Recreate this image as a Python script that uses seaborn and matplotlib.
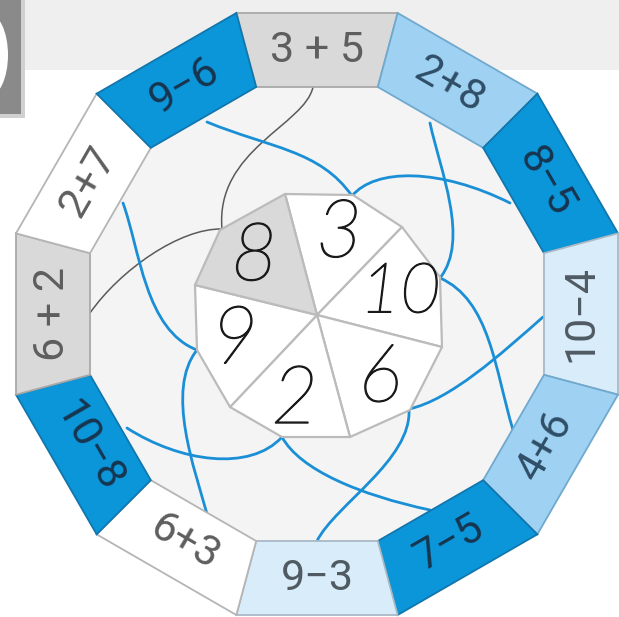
import numpy as np
import matplotlib
matplotlib.use("Agg")
import matplotlib.pyplot as plt
import matplotlib.patheffects as pe
import seaborn as sns
from matplotlib.patches import Polygon, Rectangle, Ellipse, PathPatch
from matplotlib.path import Path

# ---------------- data ----------------
expressions = ["3 + 5", "2+8", "8\u22125", "10\u22124", "4+6", "7\u22125",
               "9\u22123", "6+3", "10\u22128", "6 + 2", "2+7", "9\u22126"]
shade = ["gray", "light", "dark", "pale", "light", "dark",
         "pale", "white", "dark", "gray", "white", "dark"]
answers = ["3", "10", "6", "2", "9", "8"]
answer_shade = ["white", "white", "white", "white", "white", "gray"]

# ---------------- style ----------------
sns.set_theme(style="white")
plt.rcParams["font.family"] = ["Roboto", "DejaVu Sans"]

fill = {"gray": "#d9d9d9", "light": "#9fd2f2", "dark": "#0b96d9",
        "pale": "#d9ecfa", "white": "#ffffff"}
edge = {"gray": "#a9a9a9", "light": "#6fa9cf", "dark": "#1276ad",
        "pale": "#a9b9c6", "white": "#b5b5b5"}
txtc = {"gray": "#5e5e5e", "light": "#2f4d66", "dark": "#17354f",
        "pale": "#4f5a63", "white": "#5e5e5e"}

W, H = 619, 617
fig = plt.figure(figsize=(W / 100, H / 100), dpi=100)
ax = fig.add_axes([0, 0, 1, 1])
ax.set_xlim(0, W)
ax.set_ylim(H, 0)
ax.axis("off")
fig.patch.set_facecolor("white")

# background band and corner block
ax.add_patch(Rectangle((0, 0), W, 70, color="#efefef", lw=0, zorder=0))
ax.add_patch(Rectangle((0, 0), 25, 118, color="#d0d0d0", lw=0, zorder=1))
ax.add_patch(Rectangle((0, 0), 21, 114, color="#8a8a8a", lw=0, zorder=1))
ax.add_patch(Ellipse((-12, 55), 40, 84, color="white", lw=0, zorder=2))

CX, CY = 317, 314
A_OUT, A_IN = 301, 227
r_out = A_OUT / np.cos(np.radians(15))
r_in = A_IN / np.cos(np.radians(15))


def pt(r, deg):
    a = np.radians(deg)
    return (CX + r * np.cos(a), CY - r * np.sin(a))


# inner light area
ax.add_patch(Polygon([pt(r_in, 15 + 30 * k) for k in range(12)], closed=True,
                     fc="#f4f4f4", ec="none", zorder=1))

# ring segments
for k, (expr, s) in enumerate(zip(expressions, shade)):
    a = 90 - 30 * k
    poly = [pt(r_out, a + 15), pt(r_out, a - 15), pt(r_in, a - 15), pt(r_in, a + 15)]
    ax.add_patch(Polygon(poly, closed=True, fc=fill[s], ec=edge[s], lw=1.3, zorder=3))
    rot = a - 90
    while rot <= -90:
        rot += 180
    while rot > 90:
        rot -= 180
    tx, ty = pt((A_IN + A_OUT) / 2, a)
    ax.text(tx, ty, expr, rotation=rot, rotation_mode="anchor", ha="center",
            va="center", fontsize=31, color=txtc[s], zorder=6)

# inner polygon (spoke ends and middle vertices)
spokes = [(285, 194), (402, 227), (442, 347), (350, 437), (230, 407), (195, 285)]
mids = [(353, 195), (440, 277), (410, 410), (282, 437), (197, 350), (220, 230)]
IC = (317, 315)
for i in range(6):
    s0, m, s1 = spokes[i], mids[i], spokes[(i + 1) % 6]
    ax.add_patch(Polygon([IC, s0, m, s1], closed=True, fc=fill[answer_shade[i]],
                         ec="#bbbbbb", lw=1.6, zorder=4, joinstyle="round"))
    gx = (IC[0] + s0[0] + m[0] + s1[0]) / 4
    gy = (IC[1] + s0[1] + m[1] + s1[1]) / 4
    ax.text(gx, gy + 2, answers[i], ha="center", va="center",
            fontsize=50 if len(answers[i]) > 1 else 58,
            family=["Lato", "DejaVu Sans"], style="italic", weight="light",
            color="#1a1a1a", zorder=7,
            path_effects=[pe.withStroke(linewidth=1.0, foreground="#1a1a1a")])

# connecting curves: start, two control points, end (cubic Bezier)
curves_gray = [
    [(313, 87), (305, 125), (215, 150), (222, 229)],
    [(222, 229), (180, 228), (120, 270), (90, 313)],
]
curves_blue = [
    [(207, 122), (270, 148), (320, 150), (352, 196)],
    [(352, 196), (375, 168), (440, 168), (510, 203)],
    [(430, 123), (440, 170), (470, 240), (440, 278)],
    [(440, 278), (490, 300), (495, 370), (513, 430)],
    [(543, 317), (500, 355), (450, 400), (409, 409)],
    [(409, 409), (412, 460), (335, 505), (317, 541)],
    [(282, 437), (250, 472), (180, 462), (127, 428)],
    [(282, 437), (300, 470), (360, 495), (430, 510)],
    [(123, 203), (140, 250), (145, 330), (197, 350)],
    [(197, 350), (165, 390), (195, 470), (207, 514)],
]


def bez(points):
    return Path(points, [Path.MOVETO, Path.CURVE4, Path.CURVE4, Path.CURVE4])


for c in curves_gray:
    ax.add_patch(PathPatch(bez(c), fc="none", ec="#5a5a5a", lw=1.1, zorder=2))
for c in curves_blue:
    ax.add_patch(PathPatch(bez(c), fc="none", ec="#1a8fd6", lw=2.0, zorder=2,
                           capstyle="round"))

fig.savefig("out.png", dpi=100, facecolor="white")
